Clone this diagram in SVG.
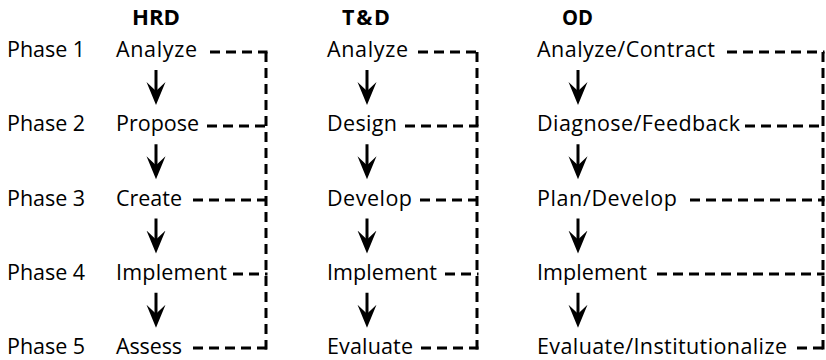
<svg xmlns="http://www.w3.org/2000/svg" width="826" height="360" viewBox="0 0 826 360">
<style>
  text { font-family: "Open Sans", "Liberation Sans", sans-serif; font-size: 21.5px; fill: #000; }
  .hdr { font-weight: bold; }
  .dash { fill: none; stroke: #000; stroke-width: 3; stroke-dasharray: 10 6; }
  .arrow { stroke: #000; stroke-width: 3; marker-end: url(#ah); }
</style>
<defs>
  <marker id="ah" markerUnits="userSpaceOnUse" viewBox="0 -10 24 20" markerWidth="24" markerHeight="20" refX="13" refY="0" orient="auto">
    <path d="M0,-9.5 L23,0 L0,9.5 L9,0 Z" fill="#000"/>
  </marker>
</defs>
<rect width="826" height="360" fill="#fff"/>

<g id="headers">
  <text id="hdr-hrd" class="hdr" x="132" y="25" textLength="48" lengthAdjust="spacingAndGlyphs">HRD</text>
  <text id="hdr-td" class="hdr" x="342" y="25" textLength="48" lengthAdjust="spacing">T&amp;D</text>
  <text id="hdr-od" class="hdr" x="562" y="25" textLength="31" lengthAdjust="spacingAndGlyphs">OD</text>
</g>

<g id="phases">
  <text id="phase1" x="7" y="57" textLength="78" lengthAdjust="spacing">Phase 1</text>
  <text id="phase2" x="7" y="131.25" textLength="78" lengthAdjust="spacing">Phase 2</text>
  <text id="phase3" x="7" y="205.5" textLength="78" lengthAdjust="spacing">Phase 3</text>
  <text id="phase4" x="7" y="279.75" textLength="78" lengthAdjust="spacing">Phase 4</text>
  <text id="phase5" x="7" y="354" textLength="78" lengthAdjust="spacing">Phase 5</text>
</g>

<g id="hrd-analyze"><text x="116" y="57" textLength="81" lengthAdjust="spacing">Analyze</text></g>
<g id="hrd-propose"><text x="116" y="131.25" textLength="83" lengthAdjust="spacing">Propose</text></g>
<g id="hrd-create"><text x="116" y="205.5" textLength="66" lengthAdjust="spacing">Create</text></g>
<g id="hrd-implement"><text x="116" y="279.75" textLength="111" lengthAdjust="spacing">Implement</text></g>
<g id="hrd-assess"><text x="116" y="354" textLength="66" lengthAdjust="spacing">Assess</text></g>

<g id="td-analyze"><text x="327" y="57" textLength="81" lengthAdjust="spacing">Analyze</text></g>
<g id="td-design"><text x="327" y="131.25" textLength="70" lengthAdjust="spacing">Design</text></g>
<g id="td-develop"><text x="327" y="205.5" textLength="85" lengthAdjust="spacing">Develop</text></g>
<g id="td-implement"><text x="327" y="279.75" textLength="110" lengthAdjust="spacing">Implement</text></g>
<g id="td-evaluate"><text x="327" y="354" textLength="86" lengthAdjust="spacing">Evaluate</text></g>

<g id="od-analyze"><text x="537" y="57" textLength="178" lengthAdjust="spacing">Analyze/Contract</text></g>
<g id="od-diagnose"><text x="537" y="131.25" textLength="203" lengthAdjust="spacing">Diagnose/Feedback</text></g>
<g id="od-plan"><text x="537" y="205.5" textLength="140" lengthAdjust="spacing">Plan/Develop</text></g>
<g id="od-implement"><text x="537" y="279.75" textLength="110" lengthAdjust="spacing">Implement</text></g>
<g id="od-evaluate"><text x="537" y="354" textLength="250" lengthAdjust="spacing">Evaluate/Institutionalize</text></g>

<g id="connectors">
  <!-- HRD arrows -->
  <line class="arrow" x1="156" y1="70" x2="156" y2="95"/>
  <line class="arrow" x1="156" y1="144.25" x2="156" y2="169.25"/>
  <line class="arrow" x1="156" y1="218.5" x2="156" y2="243.5"/>
  <line class="arrow" x1="156" y1="292.75" x2="156" y2="317.75"/>
  <!-- T&D arrows -->
  <line class="arrow" x1="367" y1="70" x2="367" y2="95"/>
  <line class="arrow" x1="367" y1="144.25" x2="367" y2="169.25"/>
  <line class="arrow" x1="367" y1="218.5" x2="367" y2="243.5"/>
  <line class="arrow" x1="367" y1="292.75" x2="367" y2="317.75"/>
  <!-- OD arrows -->
  <line class="arrow" x1="578" y1="70" x2="578" y2="95"/>
  <line class="arrow" x1="578" y1="144.25" x2="578" y2="169.25"/>
  <line class="arrow" x1="578" y1="218.5" x2="578" y2="243.5"/>
  <line class="arrow" x1="578" y1="292.75" x2="578" y2="317.75"/>

  <!-- HRD feedback -->
  <path class="dash" d="M210,52 H267.5"/>
  <path class="dash" d="M207,126 H267.5"/>
  <path class="dash" d="M193,200 H267.5"/>
  <path class="dash" d="M233,274 H267.5"/>
  <path class="dash" d="M193,348 H267.5"/>
  <path class="dash" d="M266,52 V349.5"/>
  <!-- T&D feedback -->
  <path class="dash" d="M418,52 H478.5"/>
  <path class="dash" d="M405,126 H478.5"/>
  <path class="dash" d="M420,200 H478.5"/>
  <path class="dash" d="M445,274 H478.5"/>
  <path class="dash" d="M421,348 H478.5"/>
  <path class="dash" d="M477,52 V349.5"/>
  <!-- OD feedback -->
  <path class="dash" d="M727,52 H824.5"/>
  <path class="dash" d="M745,126 H824.5"/>
  <path class="dash" d="M690,200 H824.5"/>
  <path class="dash" d="M657,274 H824.5"/>
  <path class="dash" d="M797,348 H824.5"/>
  <path class="dash" d="M823,52 V349.5"/>
</g>
</svg>
